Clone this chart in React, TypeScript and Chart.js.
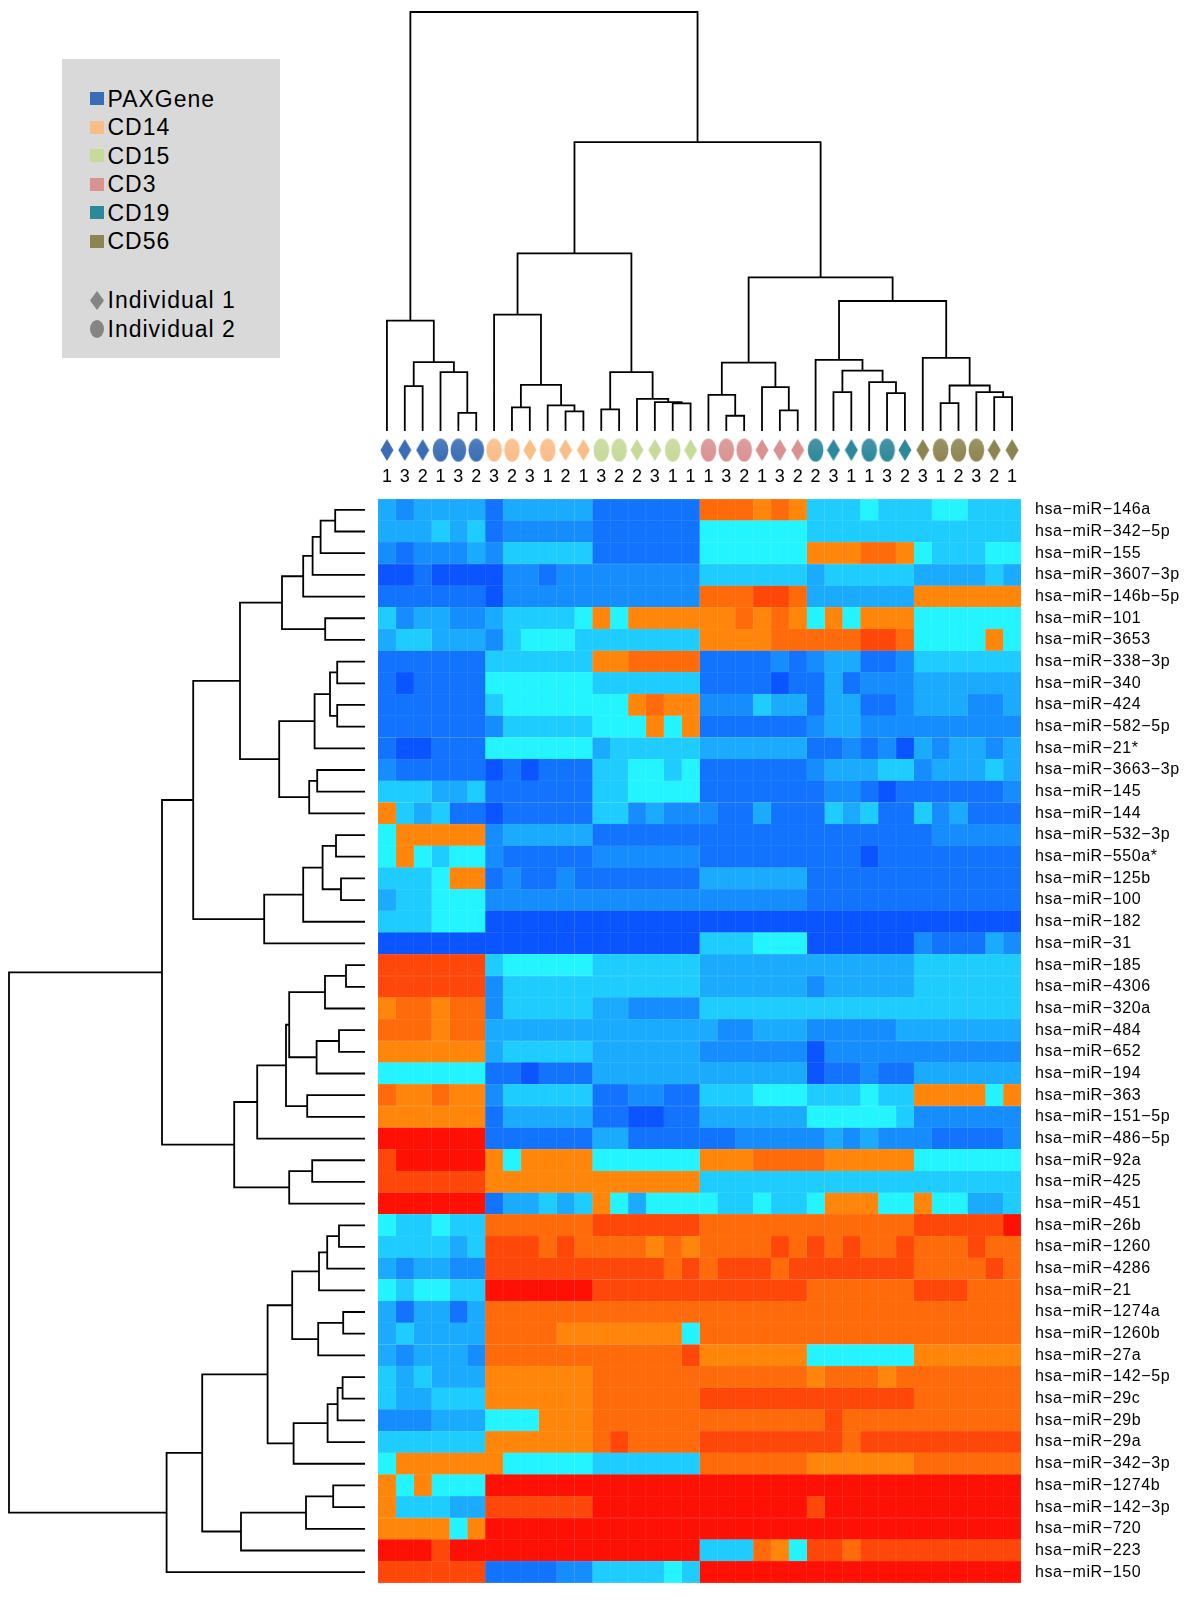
import React, { useEffect, useRef } from "react";
import { Chart, registerables } from "chart.js";

Chart.register(...registerables);

const FONT = '"Liberation Sans", Arial, Helvetica, sans-serif';

// ---------- data ----------
const rowLabels = [
  "hsa−miR−146a", "hsa−miR−342−5p", "hsa−miR−155", "hsa−miR−3607−3p", "hsa−miR−146b−5p",
  "hsa−miR−101", "hsa−miR−3653", "hsa−miR−338−3p", "hsa−miR−340", "hsa−miR−424",
  "hsa−miR−582−5p", "hsa−miR−21*", "hsa−miR−3663−3p", "hsa−miR−145", "hsa−miR−144",
  "hsa−miR−532−3p", "hsa−miR−550a*", "hsa−miR−125b", "hsa−miR−100", "hsa−miR−182",
  "hsa−miR−31", "hsa−miR−185", "hsa−miR−4306", "hsa−miR−320a", "hsa−miR−484",
  "hsa−miR−652", "hsa−miR−194", "hsa−miR−363", "hsa−miR−151−5p", "hsa−miR−486−5p",
  "hsa−miR−92a", "hsa−miR−425", "hsa−miR−451", "hsa−miR−26b", "hsa−miR−1260",
  "hsa−miR−4286", "hsa−miR−21", "hsa−miR−1274a", "hsa−miR−1260b", "hsa−miR−27a",
  "hsa−miR−142−5p", "hsa−miR−29c", "hsa−miR−29b", "hsa−miR−29a", "hsa−miR−342−3p",
  "hsa−miR−1274b", "hsa−miR−142−3p", "hsa−miR−720", "hsa−miR−223", "hsa−miR−150",
];

const cellTypeNames = ["PAXGene", "CD14", "CD15", "CD3", "CD19", "CD56"];
const cellTypeColors = ["#3a6db5", "#f9bd88", "#c6da9a", "#da9291", "#2d889b", "#8d8551"];

// per column (left to right)
const columnCellType = [
  0, 0, 0, 0, 0, 0, 1, 1, 1, 1, 1, 1, 2, 2, 2, 2, 2, 2,
  3, 3, 3, 3, 3, 3, 4, 4, 4, 4, 4, 4, 5, 5, 5, 5, 5, 5,
];
const columnIndividual = [
  1, 1, 1, 2, 2, 2, 2, 2, 1, 2, 1, 1, 2, 2, 1, 1, 2, 1,
  2, 2, 2, 1, 1, 1, 2, 1, 1, 2, 2, 1, 1, 2, 2, 2, 1, 1,
];
const columnReplicate = [
  1, 3, 2, 1, 3, 2, 3, 2, 3, 1, 2, 1, 3, 2, 2, 3, 1, 1,
  1, 3, 2, 1, 3, 2, 2, 3, 1, 1, 3, 2, 3, 1, 2, 3, 2, 1,
];

// expression level per cell (0 = lowest / dark blue ... 9 = highest / red),
// groups: PAXGene | CD14 | CD15 | CD3 | CD19 | CD56
const cellLevels = [
  "323333 133333 111111 777676 444544 455444",
  "333434 122222 111111 555555 444444 444444",
  "212223 244444 111111 555555 666776 544455",
  "001000 022122 222222 444444 344444 333343",
  "111111 022222 222222 777887 333333 666666",
  "423322 344445 656666 667676 565666 555555",
  "344333 245554 444444 666677 777887 555565",
  "111111 444444 667777 111121 233112 444444",
  "101111 555555 444444 111101 131222 333333",
  "111111 455555 556766 222433 133112 333223",
  "111111 244444 555656 111111 233222 222222",
  "100111 555555 344444 333333 112120 323323",
  "211111 010111 445545 111111 233344 233343",
  "444334 111111 445555 111111 122101 111112",
  "643411 011111 442322 211311 143411 423111",
  "566666 233333 111111 111111 111111 122222",
  "565455 211111 222222 111111 111011 111111",
  "444566 121121 111111 333333 111111 111111",
  "344555 222222 222222 222222 111111 111111",
  "444555 000000 000000 000000 000000 000000",
  "000000 000000 000000 444555 000000 211132",
  "888888 455555 444444 333333 333333 444444",
  "888888 244444 444444 333333 233333 444444",
  "677677 244444 332222 444444 444444 444444",
  "777677 333333 333333 322333 222223 333333",
  "666666 344444 333333 222222 022222 222222",
  "555555 110111 333333 333333 011211 333333",
  "766766 244444 112211 444555 444544 666656",
  "666666 133333 110011 333333 555554 222222",
  "999999 111111 331111 112222 232322 211112",
  "899999 656666 555555 666777 766666 555555",
  "888888 666666 666666 444444 444444 444444",
  "999999 133434 653555 544544 566655 655334",
  "544544 777777 888888 777777 777777 888889",
  "444434 888787 777676 777787 878778 777877",
  "323322 888888 888878 788878 888888 777787",
  "545544 999999 888888 888888 777777 888777",
  "313313 777777 777777 777777 777777 777777",
  "343333 777766 666665 777777 777777 777777",
  "323332 777777 777778 666666 555555 666666",
  "434333 666666 777777 777777 677767 777777",
  "433444 666666 777777 888888 888888 777777",
  "222333 555666 777777 777777 787777 777777",
  "444444 666666 787777 888888 887888 888888",
  "566666 655555 444444 777777 666666 777777",
  "656555 999999 999999 999999 999999 999999",
  "644433 888888 999999 999999 899999 999999",
  "666656 999999 999999 999999 999999 999999",
  "999899 999999 999999 444765 887888 888888",
  "888888 111122 444454 999999 999999 999999",
];

const levelColors = [
  "#0a55ff", "#1273ff", "#168dff", "#1aabff", "#1fccff",
  "#23f4ff", "#ff860a", "#ff6a0a", "#ff470a", "#ff1005",
];

// dendrograms: [left, right, height]; numbers are leaf indices
type Tree = number | [Tree, Tree, number];

// column (sample) dendrogram
const colPax: Tree = [0, [[1, 2, 1.35], [3, [4, 5, 0.55], 1.77], 2.07], 3.32];
const colCd14: Tree = [6, [[7, 8, 0.71], [9, [10, 11, 0.59], 0.77], 1.39], 3.5];
const colCd15: Tree = [[12, 13, 0.65], [14, [15, [16, 17, 0.83], 0.87], 0.97], 1.77];
const colCd3: Tree = [[18, [19, 20, 0.46], 1.09], [21, [22, 23, 0.62], 1.32], 2.06];
const colCd19: Tree = [24, [[25, 26, 1.17], [27, [28, 29, 1.14], 1.47], 1.82], 2.14];
const colCd56: Tree = [30, [[31, 32, 0.84], [33, [34, 35, 1.02], 1.17], 1.37], 2.2];
const columnTree: Tree = [
  colPax,
  [[colCd14, colCd15, 5.34], [colCd3, [colCd19, colCd56, 3.91], 4.62], 8.69],
  12.6,
];

// row (miRNA) dendrogram
const rowA: Tree = [[[[[0, 1, 1.49], 2, 2.22], 3, 2.62], 4, 3.09], [5, 6, 1.99], 4.15];
const rowB: Tree = [[[[7, 8, 1.39], [9, 10, 1.39], 1.75], 11, 2.52], [[12, 13, 2.39], 14, 2.79], 4.29];
const rowC: Tree = [[[[15, 16, 1.45], [17, 18, 1.2], 2.12], 19, 3.09], 20, 5.04];
const rowD: Tree = [[[[21, 22, 0.95], 23, 2.0], [[24, 25, 1.3], 26, 2.42], 3.79], [27, 28, 2.89], 3.95];
const rowE: Tree = [[rowD, 29, 5.39], [[30, 31, 2.64], 32, 3.79], 6.54];
const rowF: Tree = [[[[33, 34, 1.3], 35, 1.89], 36, 2.3], [[37, 38, 1.09], 39, 2.34], 3.64];
const rowG: Tree = [[[[40, 41, 1.12], 42, 1.37], 43, 1.87], 44, 3.57];
const rowH: Tree = [[[45, 46, 1.59], 47, 2.95], 48, 6.2];
const rowTree: Tree = [
  [[[rowA, rowB, 6.25], rowC, 8.59], rowE, 10.15],
  [[[rowF, rowG, 4.87], rowH, 8.14], 49, 9.92],
  17.8,
];

// ---------- styles ----------
const SYMBOL_LEVEL = -0.57; // height (dendrogram units) where sample symbols sit
const LINE_W = 1.8;

// ---------- helpers ----------
type Seg = { pos: number[]; h: number[] };
function layoutTree(tree: Tree, segs: Seg[]): { pos: number; h: number } {
  if (typeof tree === "number") return { pos: tree, h: 0 };
  const l = layoutTree(tree[0], segs);
  const r = layoutTree(tree[1], segs);
  const h = tree[2];
  segs.push({ pos: [l.pos, l.pos, r.pos, r.pos], h: [l.h, h, h, r.h] });
  return { pos: (l.pos + r.pos) / 2, h };
}

function hexToRgb(hex: string) {
  const n = parseInt(hex.slice(1), 16);
  return [(n >> 16) & 255, (n >> 8) & 255, n & 255];
}
function lighten(hex: string, t: number) {
  const [r, g, b] = hexToRgb(hex);
  const f = (v: number) => Math.round(v + (255 - v) * t);
  return `rgb(${f(r)},${f(g)},${f(b)})`;
}

function makeSymbol(color: string, individual: number): HTMLCanvasElement {
  const c = document.createElement("canvas");
  if (individual === 1) {
    c.width = 14;
    c.height = 24;
    const g = c.getContext("2d")!;
    g.fillStyle = color;
    g.beginPath();
    g.moveTo(7, 1);
    g.lineTo(13.5, 12);
    g.lineTo(7, 23);
    g.lineTo(0.5, 12);
    g.closePath();
    g.fill();
  } else {
    c.width = 17;
    c.height = 25;
    const g = c.getContext("2d")!;
    const grad = g.createLinearGradient(0, 1, 0, 24);
    grad.addColorStop(0, lighten(color, 0.12));
    grad.addColorStop(1, color);
    g.fillStyle = grad;
    g.beginPath();
    g.ellipse(8.5, 12.5, 7.8, 11.5, 0, 0, Math.PI * 2);
    g.fill();
  }
  return c;
}

const letterSpacing = (px: string) => ({
  id: "letterSpacing",
  beforeLayout(chart: any) {
    chart.ctx.letterSpacing = px;
  },
  beforeDraw(chart: any) {
    chart.ctx.letterSpacing = px;
  },
});

function Legend() {
  const rows: { label: string; marker: React.ReactNode; top: number }[] = [];
  cellTypeNames.forEach((name, i) => {
    rows.push({
      label: name,
      top: 25.7 + i * 28.5,
      marker: <div style={{ width: 14, height: 13, background: cellTypeColors[i] }} />,
    });
  });
  rows.push({
    label: "Individual 1",
    top: 227.3,
    marker: (
      <svg width={14} height={19} viewBox="0 0 14 19">
        <polygon points="7,0 14,9.5 7,19 0,9.5" fill="#858585" />
      </svg>
    ),
  });
  rows.push({
    label: "Individual 2",
    top: 255.7,
    marker: (
      <svg width={14} height={18} viewBox="0 0 14 18">
        <ellipse cx={7} cy={9} rx={7} ry={9} fill="#858585" />
      </svg>
    ),
  });
  return (
    <div
      style={{
        position: "absolute",
        left: 62,
        top: 59,
        width: 218,
        height: 299,
        background: "#d9d9d9",
        fontFamily: FONT,
        fontSize: 23,
        letterSpacing: 1,
        color: "#000",
      }}
    >
      {rows.map((r) => (
        <div
          key={r.label}
          style={{
            position: "absolute",
            left: 28,
            top: r.top,
            height: 28,
            lineHeight: "28px",
            display: "flex",
            alignItems: "center",
            whiteSpace: "nowrap",
          }}
        >
          <div style={{ width: 14, display: "flex", justifyContent: "center", marginRight: 3.5 }}>{r.marker}</div>
          <span>{r.label}</span>
        </div>
      ))}
    </div>
  );
}

export default function App() {
  const topRef = useRef<HTMLCanvasElement>(null);
  const leftRef = useRef<HTMLCanvasElement>(null);
  const heatRef = useRef<HTMLCanvasElement>(null);

  useEffect(() => {
    const charts: Chart[] = [];

    // ---- column dendrogram + sample symbols ----
    const colSegs: Seg[] = [];
    layoutTree(columnTree, colSegs);
    const symbols = columnCellType.map((t, i) => makeSymbol(cellTypeColors[t], columnIndividual[i]));
    const topDatasets: any[] = colSegs.map((s) => ({
      data: s.pos.map((p, i) => ({ x: p, y: s.h[i] })),
      showLine: true,
      borderColor: "#000",
      borderWidth: LINE_W,
      pointRadius: 0,
      tension: 0,
      clip: false,
      borderJoinStyle: "miter",
    }));
    topDatasets.push({
      data: columnReplicate.map((_, i) => ({ x: i, y: SYMBOL_LEVEL })),
      showLine: false,
      pointStyle: symbols,
      pointRadius: 10,
      clip: false,
    });
    charts.push(
      new Chart(topRef.current!, {
        type: "scatter",
        data: { datasets: topDatasets },
        options: {
          responsive: false,
          animation: false,
          events: [],
          layout: { autoPadding: false, padding: { top: 12, left: 0, right: 0, bottom: 0 } },
          plugins: { legend: { display: false }, tooltip: { enabled: false } },
          scales: {
            x: {
              type: "linear",
              min: -0.5,
              max: 35.5,
              grid: { display: false, drawTicks: false },
              border: { display: false },
              afterBuildTicks: (scale: any) => {
                scale.ticks = columnReplicate.map((_, i) => ({ value: i }));
              },
              afterFit: (scale: any) => {
                scale.height = 37;
                scale.paddingLeft = 0;
                scale.paddingRight = 0;
              },
              ticks: {
                autoSkip: false,
                maxRotation: 0,
                minRotation: 0,
                padding: 4,
                color: "#000",
                font: { family: FONT, size: 18 },
                callback: (v: any) => String(columnReplicate[Math.round(Number(v))] ?? ""),
              },
            },
            y: { type: "linear", min: -0.93, max: 12.6, display: false },
          },
        } as any,
      })
    );

    // ---- row dendrogram ----
    const rowSegs: Seg[] = [];
    layoutTree(rowTree, rowSegs);
    charts.push(
      new Chart(leftRef.current!, {
        type: "scatter",
        data: {
          datasets: rowSegs.map((s) => ({
            data: s.pos.map((p, i) => ({ x: s.h[i], y: p })),
            showLine: true,
            borderColor: "#000",
            borderWidth: LINE_W,
            pointRadius: 0,
            tension: 0,
            clip: false,
            borderJoinStyle: "miter",
          })) as any,
        },
        options: {
          responsive: false,
          animation: false,
          events: [],
          layout: { autoPadding: false, padding: { top: 0, bottom: 0, left: 9, right: 13 } },
          plugins: { legend: { display: false }, tooltip: { enabled: false } },
          scales: {
            x: { type: "linear", min: 0, max: 17.8, reverse: true, display: false },
            y: { type: "linear", min: -0.5, max: 49.5, reverse: true, display: false },
          },
        } as any,
      })
    );

    // ---- heatmap ----
    const levels = cellLevels.map((r) => r.replace(/\s+/g, "").split("").map(Number));
    const heatDatasets = columnCellType.map((_, c) => ({
      data: rowLabels.map(() => [c, c + 1]),
      backgroundColor: levels.map((row) => levelColors[row[c]]),
      borderColor: levels.map((row) => lighten(levelColors[row[c]], 0.14)),
      borderWidth: 0.5,
      borderSkipped: false,
      grouped: false,
      barPercentage: 1,
      categoryPercentage: 1,
    }));
    charts.push(
      new Chart(heatRef.current!, {
        type: "bar",
        data: { labels: rowLabels, datasets: heatDatasets as any },
        plugins: [letterSpacing("0.6px")],
        options: {
          indexAxis: "y",
          responsive: false,
          animation: false,
          events: [],
          layout: { autoPadding: false, padding: 0 },
          plugins: { legend: { display: false }, tooltip: { enabled: false } },
          scales: {
            x: { type: "linear", min: 0, max: 36, display: false },
            y: {
              type: "category",
              position: "right",
              grid: { display: false, drawTicks: false },
              border: { display: false },
              afterFit: (scale: any) => {
                scale.width = 179;
                scale.paddingTop = 0;
                scale.paddingBottom = 0;
              },
              ticks: {
                autoSkip: false,
                padding: 14,
                color: "#000",
                font: { family: FONT, size: 16 },
              },
            },
          },
        } as any,
      })
    );

    return () => charts.forEach((c) => c.destroy());
  }, []);

  return (
    <div
      style={{
        position: "absolute",
        left: 0,
        top: 0,
        width: 1200,
        height: 1603,
        background: "#fff",
        overflow: "hidden",
      }}
    >
      <Legend />
      <canvas ref={topRef} width={643} height={499} style={{ position: "absolute", left: 378, top: 0 }} />
      <canvas ref={leftRef} width={378} height={1084} style={{ position: "absolute", left: 0, top: 499 }} />
      <canvas ref={heatRef} width={822} height={1084} style={{ position: "absolute", left: 378, top: 499 }} />
    </div>
  );
}
